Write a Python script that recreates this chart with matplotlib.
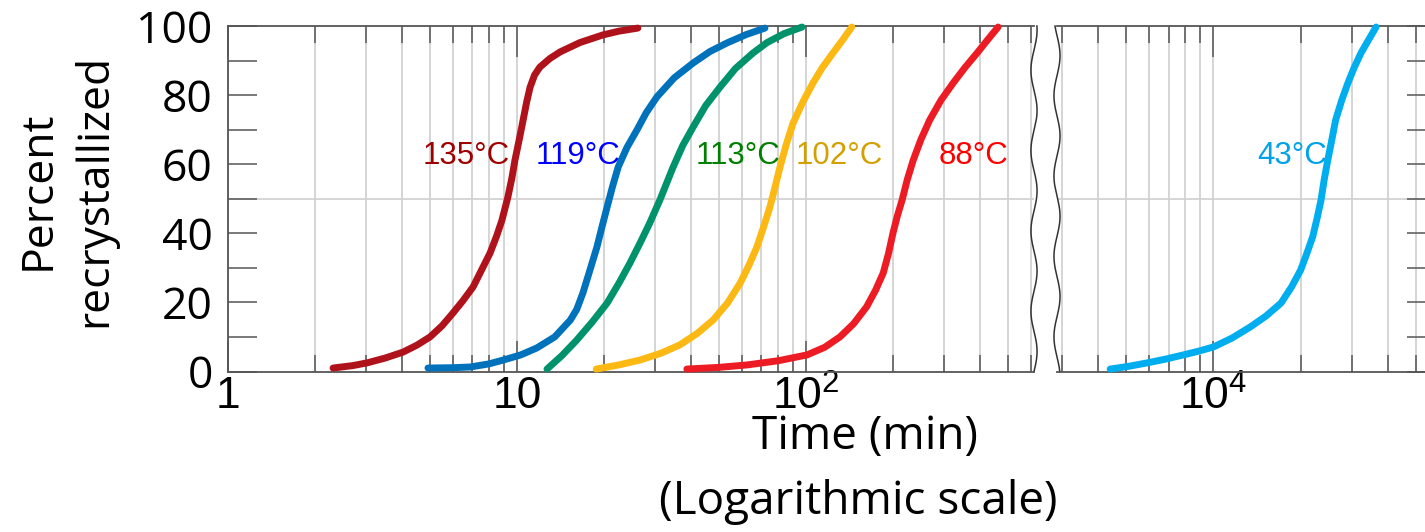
import matplotlib
matplotlib.use("Agg")
import matplotlib.pyplot as plt
import numpy as np
from matplotlib.ticker import LogLocator, NullFormatter

plt.rcParams['font.family'] = ['Liberation Sans', 'DejaVu Sans']
plt.rcParams['mathtext.fontset'] = 'custom'
plt.rcParams['mathtext.rm'] = 'Liberation Sans'

# Time (min) vs percent recrystallized
t135 = [2.31, 2.7, 3.03, 3.5, 4.03, 4.5, 5.0, 5.5, 6.0, 6.5, 7.05, 7.5, 8.07, 8.5, 8.87, 9.3,
        9.6, 9.84, 10.2, 10.5, 10.8, 11.1, 11.5, 12.0, 13.0, 14.1, 16.5, 19.8, 22.5, 26.2]
p135 = [1.0, 1.7, 2.5, 3.9, 5.6, 7.6, 10.0, 13.2, 16.9, 20.5, 24.5, 29.0, 34.3, 39.2, 43.8, 50.5,
        56.0, 61.2, 67.5, 72.8, 78.0, 82.3, 85.8, 88.1, 90.6, 92.5, 95.2, 97.4, 98.5, 99.4]

t119 = [4.92, 6.0, 6.88, 8.0, 8.95, 10.3, 11.7, 13.5, 15.3, 16.1, 16.9, 17.9, 18.9, 19.7, 20.5,
        21.4, 22.4, 24.0, 26.0, 28.0, 30.5, 35.0, 40.7, 46.5, 53.3, 62.0, 72.1]
p119 = [1.0, 1.1, 1.3, 2.2, 3.3, 4.8, 6.8, 10.0, 14.9, 18.0, 22.7, 29.5, 36.0, 42.0, 47.6,
        53.5, 59.2, 64.8, 69.9, 74.9, 79.5, 85.0, 89.3, 92.6, 95.1, 97.5, 99.4]

t113 = [12.7, 14.3, 16.1, 18.2, 20.5, 22.5, 24.6, 26.7, 28.8, 31.2, 34.7, 37.5, 40.7, 45.0,
        50.4, 57.0, 65.6, 73.3, 84.0, 96.9]
p113 = [0.7, 4.6, 9.1, 14.3, 19.8, 25.5, 31.4, 37.3, 43.0, 49.6, 59.2, 65.5, 70.8, 77.0,
        82.3, 87.7, 92.2, 95.2, 97.8, 99.7]

t102 = [18.8, 22.5, 26.6, 31.5, 36.6, 42.0, 47.7, 53.5, 59.2, 63.5, 67.6, 71.3, 75.0, 78.2,
        81.3, 85.5, 90.2, 97.5, 105.7, 114, 124, 134, 144]
p102 = [0.7, 1.9, 3.3, 5.3, 7.7, 11.0, 14.9, 19.8, 25.6, 30.8, 36.0, 41.8, 47.6, 53.5,
        59.2, 65.8, 71.9, 78.0, 83.5, 88.0, 92.2, 96.0, 99.7]

t88 = [38.7, 50, 62.5, 80, 100.8, 116, 131, 146, 162, 174, 185, 193, 200, 207, 215, 224,
       235, 250, 268, 293, 323, 355, 391, 425, 462]
p88 = [0.7, 1.2, 1.9, 3.1, 4.8, 7.0, 10.0, 13.8, 18.7, 23.5, 28.5, 34.2, 40.1, 45.0, 49.6, 55.5,
       61.2, 67.2, 72.8, 78.5, 83.5, 88.0, 92.2, 96.0, 99.7]

t43 = [4400, 5100, 5910, 6850, 7870, 8900, 10000, 11600, 13400, 15200, 17100, 18600, 20000,
       21000, 22000, 22800, 23500, 24100, 24800, 25600, 26400, 27700, 29100, 30600, 32300,
       34300, 36400]
p43 = [0.7, 1.5, 2.5, 3.6, 4.8, 5.9, 7.1, 9.7, 12.9, 16.1, 19.8, 24.5, 29.4,
       34.2, 39.0, 44.5, 49.6, 55.5, 61.2, 67.0, 72.8, 78.5, 83.5, 88.0, 92.2,
       96.0, 99.7]

labels = ['135°C', '119°C', '113°C', '102°C', '88°C', '43°C']

W, H = 1425, 532


def px_box(x0, x1, ytop, ybot):
    return [x0 / W, 1 - ybot / H, (x1 - x0) / W, (ybot - ytop) / H]


fig = plt.figure(figsize=(W / 100, H / 100), dpi=100)
axL = fig.add_axes(px_box(228, 1034, 26, 371.5))
axR = fig.add_axes(px_box(1057, 1436, 26, 371.5))

spine_col = '#555555'
grid_col = '#d2d2d2'

for ax in (axL, axR):
    ax.set_xscale('log')
    ax.set_ylim(0, 100)
    ax.xaxis.set_minor_locator(LogLocator(base=10, subs=np.arange(2, 10)))
    ax.xaxis.set_minor_formatter(NullFormatter())
    ax.grid(which='both', axis='x', color=grid_col, lw=1.3, zorder=0)
    ax.axhline(50, color=grid_col, lw=1.3, zorder=0)
    ax.tick_params(axis='x', which='major', direction='in', length=22, width=1.1,
                   top=True, bottom=True, color=spine_col, labelsize=32, pad=3)
    ax.tick_params(axis='x', which='minor', direction='in', length=12, width=1.1,
                   top=True, bottom=True, color=spine_col)
    for s in ax.spines.values():
        s.set_color(spine_col)
        s.set_linewidth(1.3)
    ax.set_yticks(range(0, 101, 10))

axL.set_xlim(1, 615)
axL.set_xticks([1, 10, 100])
axL.set_xticklabels(['1', '10', r'$\mathregular{10^2}$'])
axL.set_yticklabels([str(v) if v % 20 == 0 else '' for v in range(0, 101, 10)])
axL.tick_params(axis='y', direction='in', length=21, width=1.1, left=True, right=False,
                color=spine_col, labelsize=32, pad=11)
for lbl in axL.get_yticklabels():
    lbl.set_fontfamily(['Open Sans', 'DejaVu Sans'])
axL.spines['right'].set_visible(False)

axR.set_xlim(2884, 58600)
axR.set_xticks([1e4])
axR.set_xticklabels([r'$\mathregular{10^4}$'])
axR.yaxis.tick_right()
axR.set_yticklabels([])
axR.tick_params(axis='y', direction='in', length=21, width=1.1, left=False, right=True,
                color=spine_col)
axR.spines['left'].set_visible(False)

# curves
line_kw = dict(lw=5, solid_capstyle='round', solid_joinstyle='round', clip_on=False, zorder=3)
axL.plot(t135, p135, color='#B0121B', **line_kw)
axL.plot(t119, p119, color='#0072BC', **line_kw)
axL.plot(t113, p113, color='#00936B', **line_kw)
axL.plot(t102, p102, color='#FDB913', **line_kw)
axL.plot(t88, p88, color='#ED1C24', **line_kw)
axR.plot(t43, p43, color='#00AEEF', **line_kw)

# curve labels
lab_kw = dict(fontsize=22.5, ha='left', va='center', zorder=4)
axL.text(4.73, 62.5, labels[0], color='#A00000', **lab_kw)
axL.text(11.6, 62.5, labels[1], color='#0000FF', **lab_kw)
axL.text(41.6, 62.5, labels[2], color='#008000', **lab_kw)
axL.text(92.3, 62.5, labels[3], color='#D4A000', **lab_kw)
axL.text(288, 62.5, labels[4], color='#FF0000', **lab_kw)
axR.text(14200, 62.5, labels[5], color='#00A2E8', **lab_kw)

# axis break squiggles
tt = np.linspace(0, 1, 300)
axL.plot(1 + 0.0038 * np.sin(2 * np.pi * 4.3 * tt), tt, transform=axL.transAxes,
         color='#333333', lw=1.1, clip_on=False)
axR.plot(0.008 * np.sin(2 * np.pi * 4.3 * tt + 2.0), tt, transform=axR.transAxes,
         color='#333333', lw=1.1, clip_on=False)

# axis titles
fig.text(67 / W, 1 - 190 / H, 'Percent\nrecrystallized', rotation=90, ha='center', va='center',
         fontsize=32, family=['Open Sans', 'DejaVu Sans'], linespacing=1.35, multialignment='center')
fig.text(865 / W, 1 - 437 / H, 'Time (min)', ha='center', va='center',
         fontsize=33, family=['Open Sans', 'DejaVu Sans'])
fig.text(858 / W, 1 - 502 / H, '(Logarithmic scale)', ha='center', va='center',
         fontsize=33, family=['Open Sans', 'DejaVu Sans'])

fig.savefig('out.png', dpi=100)
